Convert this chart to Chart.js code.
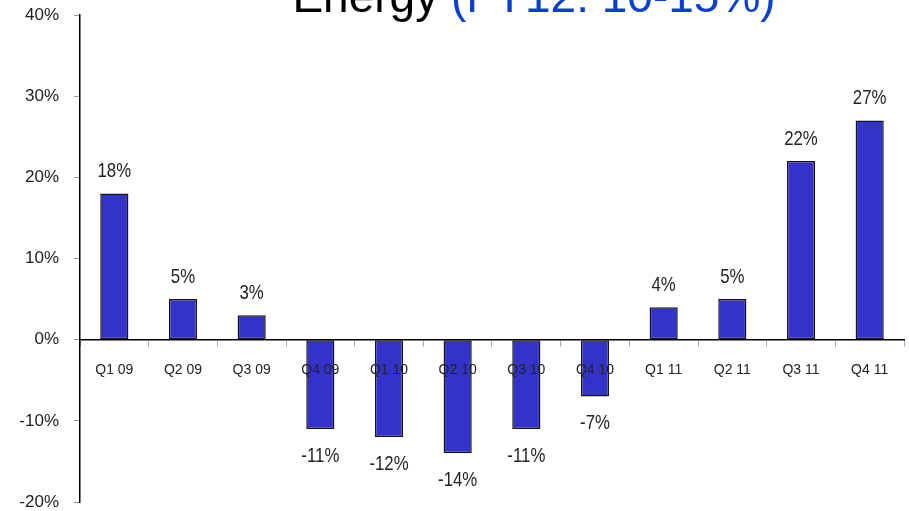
<!DOCTYPE html>
<html>
<head>
<meta charset="utf-8">
<script src="https://cdn.jsdelivr.net/npm/chart.js@4"></script>
<style>
  html, body { margin: 0; padding: 0; background: #fff; }
  #wrap { width: 909px; height: 511px; }
</style>
</head>
<body>
<div id="wrap"><canvas id="energyChart"></canvas></div>
<script>
// --- datos ---
const quarters = ['Q1 09', 'Q2 09', 'Q3 09', 'Q4 09', 'Q1 10', 'Q2 10', 'Q3 10', 'Q4 10', 'Q1 11', 'Q2 11', 'Q3 11', 'Q4 11'];
const growth = [18, 5, 3, -11, -12, -14, -11, -7, 4, 5, 22, 27];
const yTicks = [-20, -10, 0, 10, 20, 30, 40];
const titleMain = 'Energy ';
const titleNote = '(FY12: 10-15%)';

// titulo recortado arriba (dos colores)
const titlePlugin = {
    id: 'twoColorTitle',
    afterDraw(chart) {
        const ctx = chart.ctx;
        ctx.save();
        ctx.font = '46px "Liberation Sans", Arial, sans-serif';
        ctx.textBaseline = 'alphabetic';
        ctx.textAlign = 'left';
        const w1 = ctx.measureText(titleMain).width;
        const w2 = ctx.measureText(titleNote).width;
        let x = 534 - (w1 + w2) / 2;
        ctx.fillStyle = '#000';
        ctx.fillText(titleMain, x, 12);
        ctx.fillStyle = '#0a3fd0';
        ctx.fillText(titleNote, x + w1, 12);
        ctx.restore();
    }
};

// etiquetas de valor sobre / bajo cada barra (fuente estrecha)
const valueLabels = {
    id: 'valueLabels',
    afterDatasetsDraw(chart) {
        const ctx = chart.ctx;
        const meta = chart.getDatasetMeta(0);
        ctx.save();
        ctx.font = '21px "Liberation Sans", Arial, sans-serif';
        ctx.fillStyle = '#222';
        ctx.textAlign = 'center';
        ctx.textBaseline = 'middle';
        meta.data.forEach((bar, i) => {
            const v = growth[i];
            const y = v >= 0 ? bar.y - 22 : bar.y + 27;
            ctx.save();
            ctx.translate(bar.x, y);
            ctx.scale(0.8, 1);
            ctx.fillText(v + '%', 0, 0);
            ctx.restore();
        });
        ctx.restore();
    }
};

// quitar el relleno automatico de las escalas
const noScalePadding = (scale) => {
    scale.paddingTop = 0;
    scale.paddingBottom = 0;
    scale.paddingLeft = 0;
    scale.paddingRight = 0;
};

new Chart(document.getElementById('energyChart'), {
    type: 'bar',
    data: {
        labels: quarters,
        datasets: [{
            data: growth,
            backgroundColor: '#3333cc',
            borderColor: '#151515',
            borderWidth: 1.5,
            borderSkipped: false,
            categoryPercentage: 1.0,
            barPercentage: 0.41
        }]
    },
    options: {
        responsive: true,
        maintainAspectRatio: false,
        animation: false,
        layout: { padding: { top: 15, bottom: 9, right: 5, left: 0 } },
        plugins: {
            legend: { display: false },
            title: { display: false },
            tooltip: { enabled: false }
        },
        scales: {
            y: {
                min: -20,
                max: 40,
                afterFit(scale) { scale.width = 80; noScalePadding(scale); },
                afterBuildTicks(scale) { scale.ticks = yTicks.map(v => ({ value: v })); },
                grid: { drawOnChartArea: false, tickLength: 6, color: '#999' },
                border: { display: true, color: '#000', width: 1.5 },
                ticks: {
                    padding: 15,
                    color: '#222',
                    font: { family: '"Liberation Sans", Arial, sans-serif', size: 17 },
                    callback: v => v + '%'
                }
            },
            x: {
                position: { y: 0 },
                afterFit(scale) { noScalePadding(scale); },
                grid: { drawOnChartArea: false, offset: true, tickLength: 6, color: '#aaa' },
                border: { display: true, color: '#000', width: 1.5 },
                ticks: {
                    z: 1, // etiquetas encima de las barras negativas
                    padding: 16,
                    color: '#222',
                    maxRotation: 0,
                    autoSkip: false,
                    font: { family: '"Liberation Sans", Arial, sans-serif', size: 14 }
                }
            }
        }
    },
    plugins: [titlePlugin, valueLabels]
});
</script>
</body>
</html>
